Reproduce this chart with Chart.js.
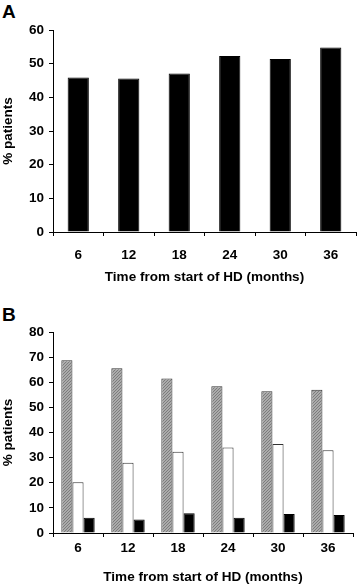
<!DOCTYPE html>
<html>
<head>
<meta charset="utf-8">
<script src="https://cdn.jsdelivr.net/npm/chart.js@4"></script>
<style>
  html, body { margin: 0; padding: 0; background: #fff; }
  body { width: 358px; height: 588px; position: relative; overflow: hidden; font-family: "Liberation Sans", Arial, sans-serif; }
  .panel { position: absolute; left: 0; width: 358px; }
  .tag { position: absolute; left: 2px; font-weight: bold; font-size: 19px; line-height: 19px; color: #000; }
</style>
</head>
<body>
<div class="tag" style="top:2px">A</div>
<div class="tag" style="top:305px">B</div>
<div class="panel" style="top:0;height:290px"><canvas id="chartA" width="358" height="290"></canvas></div>
<div class="panel" style="top:290px;height:298px"><canvas id="chartB" width="358" height="298"></canvas></div>
<script>
// data
const months = ['6', '12', '18', '24', '30', '36'];
const panelA = [45.9, 45.6, 47.1, 52.3, 51.4, 54.8];
const panelBGray = [68.8, 65.6, 61.5, 58.4, 56.4, 57.0];
const panelBWhite = [20.2, 28.0, 32.3, 34.0, 35.4, 32.9];
const panelBBlack = [6.1, 5.4, 7.9, 6.1, 7.6, 7.2];

const xTitle = 'Time from start of HD (months)';
const yTitle = '% patients';
const FONT = '"Liberation Sans", Arial, sans-serif';
const FS = 13.5;

// fine grey hatch for the first series of panel B
function hatch() {
    const c = document.createElement('canvas');
    c.width = 3; c.height = 3;
    const g = c.getContext('2d');
    g.fillStyle = '#ababab';
    g.fillRect(0, 0, 3, 3);
    g.fillStyle = '#7c7c7c';
    for (let i = 0; i < 3; i++) g.fillRect(i, 2 - i, 1, 1);
    return g.createPattern(c, 'repeat');
}

function makeOpts(cfg) {
    return {
        responsive: false,
        animation: false,
        layout: { padding: { top: cfg.top, right: cfg.right, left: 0, bottom: 0 } },
        plugins: { legend: { display: false }, tooltip: { enabled: false } },
        scales: {
            x: {
                grid: { drawOnChartArea: false, tickLength: 4, color: '#000', offset: true },
                border: { color: '#000', width: 1 },
                ticks: { color: '#000', padding: cfg.xPad, font: { family: FONT, size: FS, weight: 'bold' } },
                title: { display: true, text: xTitle, color: '#000', padding: { top: 0, bottom: cfg.titlePad },
                         font: { family: FONT, size: FS, weight: 'bold' } },
                afterFit: s => { s.height = cfg.xHeight; }
            },
            y: {
                min: 0, max: cfg.max,
                grid: { drawOnChartArea: false, tickLength: 4, color: '#000' },
                border: { color: '#000', width: 1 },
                ticks: { stepSize: 10, color: '#000', padding: 5, font: { family: FONT, size: FS, weight: 'bold' } },
                title: { display: true, text: yTitle, color: '#000', padding: 0,
                         font: { family: FONT, size: FS, weight: 'bold' } },
                afterFit: s => { s.width = 53; }
            }
        }
    };
}

new Chart(document.getElementById('chartA'), {
    type: 'bar',
    data: {
        labels: months,
        datasets: [{
            data: panelA,
            backgroundColor: '#000',
            borderColor: '#000',
            borderWidth: 1,
            categoryPercentage: 1,
            barPercentage: 0.42
        }]
    },
    options: makeOpts({ top: 30, right: 2, xPad: 11, titlePad: 5, xHeight: 58, max: 60 })
});

new Chart(document.getElementById('chartB'), {
    type: 'bar',
    data: {
        labels: months,
        datasets: [
            { data: panelBGray, backgroundColor: hatch(), borderColor: '#333', borderWidth: 1 },
            { data: panelBWhite, backgroundColor: '#fff', borderColor: '#333', borderWidth: 1 },
            { data: panelBBlack, backgroundColor: '#000', borderColor: '#000', borderWidth: 1 }
        ].map(d => Object.assign(d, { categoryPercentage: 0.667, barPercentage: 1 }))
    },
    options: makeOpts({ top: 42, right: 5, xPad: 3, titlePad: 3, xHeight: 55, max: 80 })
});
</script>
</body>
</html>
